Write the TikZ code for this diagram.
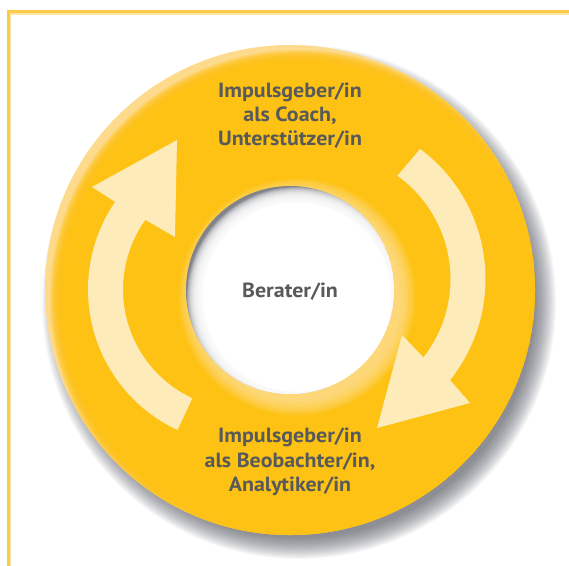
\documentclass[tikz,border=0pt]{standalone}
\usepackage{fontspec}
\setmainfont{PT Sans}[FakeStretch=1.07]
\usetikzlibrary{calc}
\definecolor{ringc}{HTML}{FDC213}
\definecolor{rimc}{HTML}{FEDA8C}
\definecolor{arrowc}{HTML}{FEEBBA}
\definecolor{framec}{HTML}{FDCB48}
\definecolor{framelc}{HTML}{FEE6A6}
\definecolor{textc}{HTML}{58595B}
\definecolor{shadowc}{HTML}{4A4D57}
\definecolor{holec}{HTML}{82848C}
\definecolor{glowc}{HTML}{FEE3A0}
\begin{document}
\begin{tikzpicture}[x=1bp,y=-1bp,
  lbl/.style={anchor=base, text=textc, font=\fontsize{20.5bp}{24bp}\selectfont\bfseries, inner sep=0pt},
  arrowshape/.style={fill=arrowc}]
\useasboundingbox (0,0) rectangle (569,566);
\fill[white] (0,0) rectangle (569,566);
\coordinate (C) at (290,290);
% frame
\draw[framelc, line width=1.2bp] (10.8,566) -- (10.8,14) -- (569,14);
\draw[framec, line width=3bp, line join=miter] (8.3,566) -- (8.3,11.5) -- (569,11.5);
% drop shadow
\foreach \k in {0,...,19} \fill[shadowc, opacity=0.045] (299,302) circle ({257-\k*1.1});
% ring with rim highlight
\begin{scope}
  \clip (C) circle (245);
  \fill[rimc] (C) circle (245);
  \foreach \k in {0,...,12} \fill[ringc, opacity=0.22] (298,298) circle ({248-\k});
  \fill[ringc] (298,298) circle (235);
  \foreach \k in {0,...,9} \fill[glowc, opacity=0.12] (297,297) circle ({104+\k*1.6});
\end{scope}
% hole with inner shadow
\begin{scope}
  \clip (C) circle (104);
  \fill[holec] (C) circle (104);
  \foreach \k in {0,...,15} \fill[white, opacity=0.22] (297,297) circle ({110-\k});
  \fill[white] (297,297) circle (94.5);
\end{scope}
% arrows
\coordinate (RC) at (323.5,279);
\fill[arrowshape] ($(RC)+(-53.4:162)$) arc[start angle=-53.4, end angle=38.6, radius=162]
  -- (470,403) -- (377,428) -- (402,335) -- ($(RC)+(38.1:127)$)
  arc[start angle=38.1, end angle=-54.4, radius=127] -- cycle;
\coordinate (LC) at (243,289.5);
\fill[arrowshape] ($(LC)+(115:155)$) arc[start angle=115, end angle=214.4, radius=155]
  -- (92,187) -- (177,140) -- (175,237) -- ($(LC)+(215.5:120)$)
  arc[start angle=215.5, end angle=115, radius=120] -- cycle;
% texts
\node[lbl] (t1) at (290,97.3) {Impulsgeber/in};
\node[lbl] (t2) at (290,121.7) {als Coach,};
\node[lbl] (t3) at (290,146) {Unterstützer/in};
\node[lbl] (c1) at (290,297.3) {Berater/in};
\node[lbl] (b1) at (290,442.7) {Impulsgeber/in};
\node[lbl] (b2) at (290,467.3) {als Beobachter/in,};
\node[lbl] (b3) at (290,491.7) {Analytiker/in};
\end{tikzpicture}
\end{document}
